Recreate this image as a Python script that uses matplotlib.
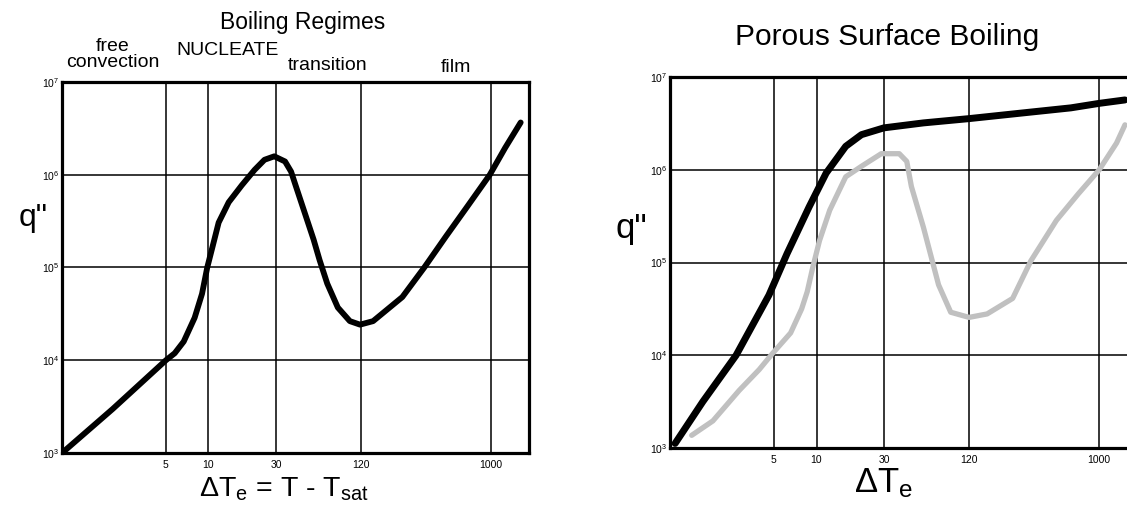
import matplotlib

matplotlib.use("Agg")
import matplotlib.pyplot as plt

plt.rcParams["font.family"] = ["Liberation Sans", "DejaVu Sans"]
plt.rcParams["mathtext.fontset"] = "custom"
plt.rcParams["mathtext.rm"] = "Liberation Sans"
plt.rcParams["mathtext.it"] = "Liberation Sans"
plt.rcParams["mathtext.default"] = "regular"

# boiling curve for a plain surface (excess temperature, heat flux)
plain_dt = [0.935, 2.10, 5.0, 5.77, 6.68, 7.98, 9.0, 9.8, 10.7, 11.8, 13.9, 17.2,
            21.2, 24.9, 29.2, 34.8, 38.4, 41.3, 47.9, 55.4, 61.1, 69.2, 82.2, 100,
            118, 146, 235, 336, 479, 684, 977, 1254, 1615]
plain_q = [1.02e3, 2.98e3, 1.0e4, 1.19e4, 1.59e4, 2.87e4, 5.2e4, 1.0e5, 1.69e5,
           3.05e5, 5.05e5, 7.7e5, 1.13e6, 1.45e6, 1.58e6, 1.39e6, 1.08e6, 7.7e5,
           3.9e5, 2.0e5, 1.2e5, 6.7e4, 3.7e4, 2.64e4, 2.42e4, 2.64e4, 4.8e4,
           1.0e5, 2.17e5, 4.64e5, 1.0e6, 1.95e6, 3.66e6]

# porous surface curve
porous_dt = [1.0, 1.57, 2.70, 4.61, 6.18, 8.87, 11.7, 16.1, 20.8, 30, 57, 120,
             292, 630, 1000, 1520]
porous_q = [1.12e3, 3.16e3, 1.0e4, 4.45e4, 1.24e5, 3.98e5, 9.2e5, 1.79e6, 2.39e6,
            2.83e6, 3.2e6, 3.56e6, 4.11e6, 4.65e6, 5.2e6, 5.66e6]

# plain surface curve repeated in grey for comparison
ref_dt = [1.31, 1.85, 2.84, 3.93, 4.87, 6.56, 7.85, 8.6, 9.4, 10.5, 12.4, 16.1,
          20.8, 28.7, 38.5, 43.5, 46.9, 57, 73, 89, 120, 161, 244, 328, 498, 711,
          1000, 1325, 1520]
ref_q = [1.37e3, 1.96e3, 4.18e3, 7.0e3, 1.04e4, 1.74e4, 3.16e4, 4.85e4, 8.8e4,
         1.72e5, 3.66e5, 8.4e5, 1.09e6, 1.49e6, 1.49e6, 1.23e6, 6.6e5, 2.41e5,
         5.75e4, 2.91e4, 2.56e4, 2.79e4, 4.1e4, 1.04e5, 2.85e5, 5.5e5, 1.0e6,
         1.94e6, 3.05e6]

dt_ticks = [5, 10, 30, 120, 1000]
q_ticks = [1e3, 1e4, 1e5, 1e6, 1e7]

regimes = ["free\nconvection", "NUCLEATE", "transition", "film"]
regime_x = [2.1, 13.6, 69.5, 564]
regime_y = [1.03, 1.062, 1.022, 1.016]


def style_axes(ax):
    ax.set_xscale("log")
    ax.set_yscale("log")
    ax.set_xlim(0.92, 1850)
    ax.set_ylim(1e3, 1e7)
    ax.set_xticks(dt_ticks)
    ax.set_xticklabels([str(t) for t in dt_ticks])
    ax.set_yticks(q_ticks)
    ax.minorticks_off()
    ax.tick_params(length=0, labelsize=7.5, pad=5)
    ax.tick_params(axis="y", pad=2)
    ax.grid(True, color="black", lw=1.1)
    ax.set_axisbelow(True)
    for sp in ax.spines.values():
        sp.set_linewidth(2.3)


fig = plt.figure(figsize=(11.27, 5.08), dpi=100)

ax1 = fig.add_axes([0.0550, 0.1083, 0.4144, 0.7303])
style_axes(ax1)
ax1.plot(plain_dt, plain_q, color="black", lw=4.2, solid_capstyle="round",
         solid_joinstyle="round")
ax1.set_title("Boiling Regimes", fontsize=16.5, pad=38, x=0.516)
for label, x, y in zip(regimes, regime_x, regime_y):
    ax1.text(x, y, label, transform=ax1.get_xaxis_transform(), ha="center",
             va="bottom", fontsize=14, linespacing=0.95)
ax1.set_xlabel("ΔT$_{e}$ = T - T$_{sat}$", fontsize=20.5, va="top")
ax1.xaxis.set_label_coords(0.475, -0.062)
ax1.set_ylabel('q"', fontsize=23, rotation=0, ha="center", va="center")
ax1.yaxis.set_label_coords(-0.062, 0.633)

ax2 = fig.add_axes([0.5945, 0.1181, 0.4144, 0.7303])
style_axes(ax2)
ax2.plot(ref_dt, ref_q, color="#c0c0c0", lw=3.8, solid_capstyle="round",
         solid_joinstyle="round")
ax2.plot(porous_dt, porous_q, color="black", lw=5.0, solid_capstyle="round",
         solid_joinstyle="round")
ax2.set_title("Porous Surface Boiling", fontsize=21.5, pad=23, x=0.464)
ax2.set_xlabel("ΔT$_{e}$", fontsize=25, va="top")
ax2.xaxis.set_label_coords(0.458, -0.05)
ax2.set_ylabel('q"', fontsize=25, rotation=0, ha="center", va="center")
ax2.yaxis.set_label_coords(-0.0835, 0.593)

fig.savefig("out.png", dpi=100)
